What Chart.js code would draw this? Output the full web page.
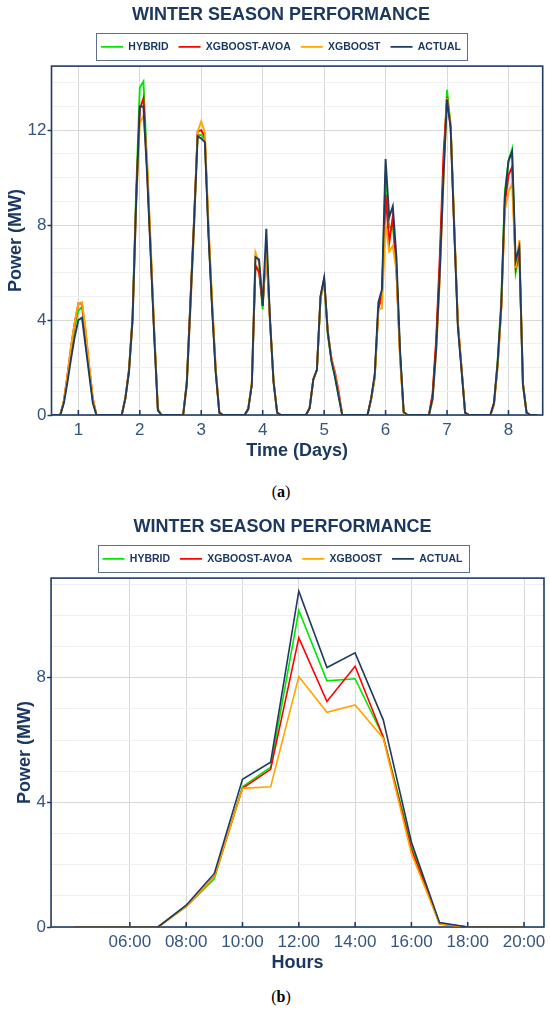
<!DOCTYPE html>
<html>
<head>
<meta charset="utf-8">
<script src="https://cdn.jsdelivr.net/npm/chart.js@4.4.1/dist/chart.umd.min.js"></script>
<style>
    html, body { margin: 0; padding: 0; background: #fff; width: 550px; height: 1014px; overflow: hidden; }
    .box { position: absolute; left: 0; }
    .cap { position: absolute; left: 6px; width: 550px; text-align: center; line-height: 20px;
           font-family: "Liberation Serif", "DejaVu Serif", serif; font-size: 16px; color: #000; }
</style>
</head>
<body>
<div class="box" style="top:0; width:562px; height:465px;"><canvas id="chartA"></canvas></div>
<div class="cap" style="top:482px;">(<b>a</b>)</div>
<div class="box" style="top:512px; width:556px; height:465px;"><canvas id="chartB"></canvas></div>
<div class="cap" style="top:987px;">(<b>b</b>)</div>

<script>
// eixo x: dias e horas amostradas em cada dia
const xDays = [1, 2, 3, 4, 5, 6, 7, 8];
const dayHours = [4, 5, 6, 7, 8, 9, 10, 11, 12, 13, 14, 15, 16, 17, 18, 19, 20];
const hourTicks = [6, 8, 10, 12, 14, 16, 18, 20];
const detailDay = 6;

const seriesNames = ['HYBRID', 'XGBOOST-AVOA', 'XGBOOST', 'ACTUAL'];
const seriesColors = ['#00e800', '#ff0000', '#ffa500', '#1f3b5f'];

// potência (MW) por hora, uma linha por dia
const hybrid = [
    [0,0,0, 0,0.6,1.6,2.7,3.7,4.4,4.55,3.3,1.9,0.6,0, 0,0,0],
    [0,0,0, 0,0.7,1.9,4.2,9.5,13.8,14.05,10.6,7.0,3.4,0.2, 0,0,0],
    [0,0,0, 0,1.4,4.8,8.2,11.8,11.8,11.6,7.7,4.6,1.8,0.1, 0,0,0],
    [0,0,0, 0,0.25,1.3,6.3,6.1,4.45,7.3,4.0,1.4,0.1,0, 0,0,0],
    [0,0,0, 0,0.3,1.5,1.9,4.9,5.6,3.4,2.3,1.6,0.8,0, 0,0,0],
    [0,0,0, 0,0.65,1.55,4.5,5.13,10.16,7.9,7.97,6.11,2.63,0.1, 0,0,0],
    [0,0,0, 0,0.8,3.0,6.3,10.3,13.7,12.2,7.9,3.8,2.0,0.1, 0,0,0],
    [0,0,0, 0,0.5,2.3,4.8,9.4,10.7,11.2,6.0,6.8,1.3,0.1, 0,0,0]
];
const xgboostAvoa = [
    [0,0,0, 0,0.6,1.7,2.9,3.9,4.7,4.7,3.5,2.0,0.7,0, 0,0,0],
    [0,0,0, 0,0.7,1.9,4.1,9.2,12.9,13.35,10.4,6.9,3.4,0.2, 0,0,0],
    [0,0,0, 0,1.4,4.8,8.2,11.95,12.0,11.7,7.8,4.6,1.9,0.1, 0,0,0],
    [0,0,0, 0,0.25,1.3,6.3,6.0,4.6,7.0,4.0,1.4,0.1,0, 0,0,0],
    [0,0,0, 0,0.3,1.5,1.9,5.0,5.75,3.5,2.4,1.8,1.0,0, 0,0,0],
    [0,0,0, 0,0.67,1.62,4.45,5.06,9.28,7.24,8.37,6.1,2.5,0.1, 0,0,0],
    [0,0,0, 0,0.9,3.2,6.7,10.9,13.4,12.1,7.8,3.9,2.0,0.1, 0,0,0],
    [0,0,0, 0,0.5,2.1,4.5,8.9,10.1,10.45,6.2,6.9,1.3,0.1, 0,0,0]
];
const xgboost = [
    [0,0,0, 0,0.6,1.7,2.9,3.9,4.7,4.75,3.6,2.1,0.7,0, 0,0,0],
    [0,0,0, 0,0.7,1.8,3.9,8.8,12.3,12.6,10.8,7.3,3.6,0.3, 0,0,0],
    [0,0,0, 0,1.2,4.4,7.8,11.95,12.37,11.9,8.1,4.9,2.0,0.1, 0,0,0],
    [0,0,0, 0,0.3,1.4,6.85,6.4,4.8,6.9,4.1,1.5,0.1,0, 0,0,0],
    [0,0,0, 0,0.3,1.5,1.9,4.9,5.6,3.6,2.4,1.7,0.9,0, 0,0,0],
    [0,0,0, 0,0.67,1.6,4.45,4.5,8.04,6.89,7.13,6.06,2.36,0.1, 0,0,0],
    [0,0,0, 0,0.6,2.6,5.7,9.8,13.35,12.3,8.1,3.9,2.0,0.1, 0,0,0],
    [0,0,0, 0,0.4,2.0,4.4,8.6,9.4,9.75,6.2,7.37,1.4,0.1, 0,0,0]
];
const actual = [
    [0,0,0, 0,0.5,1.4,2.4,3.3,4.0,4.1,2.9,1.7,0.5,0, 0,0,0],
    [0,0,0, 0,0.7,1.8,4.0,9.0,13.0,13.0,10.2,6.8,3.3,0.2, 0,0,0],
    [0,0,0, 0,1.3,4.6,8.0,11.75,11.65,11.5,7.6,4.5,1.8,0.1, 0,0,0],
    [0,0,0, 0,0.25,1.3,6.65,6.55,4.6,7.85,4.1,1.4,0.1,0, 0,0,0],
    [0,0,0, 0,0.3,1.5,1.9,5.0,5.78,3.5,2.3,1.6,0.8,0, 0,0,0],
    [0,0,0, 0,0.7,1.72,4.74,5.29,10.78,8.33,8.8,6.65,2.73,0.14, 0,0,0],
    [0,0,0, 0,0.7,2.8,6.0,10.0,13.3,12.1,7.8,3.7,1.9,0.1, 0,0,0],
    [0,0,0, 0,0.5,2.2,4.6,9.2,10.7,11.1,6.5,7.08,1.3,0.1, 0,0,0]
];

const navy = '#1f3a63';
const tickText = '#34557e';
const titleText = '#1b3960';
Chart.defaults.font.family = '"Liberation Sans", Arial, sans-serif';

// série contínua: cada hora vira uma fração do dia
function daySeries(rows) {
    const pts = [];
    rows.forEach((row, i) => {
        row.forEach((v, j) => {
            pts.push({ x: xDays[i] + (dayHours[j] - 12) / dayHours.length, y: v });
        });
    });
    return pts;
}

function hourSeries(rows) {
    return rows[detailDay - 1].map((v, j) => ({ x: dayHours[j], y: v }));
}

function buildDatasets(mapper, width) {
    const all = [hybrid, xgboostAvoa, xgboost, actual];
    return all.map((rows, i) => ({
        label: seriesNames[i],
        data: mapper(rows),
        borderColor: seriesColors[i],
        backgroundColor: seriesColors[i],
        borderWidth: width,
        pointRadius: 0,
        tension: 0,
        order: 4 - i
    }));
}

// moldura da legenda e espaço extra abaixo dela
const legendFrame = {
    id: 'legendFrame',
    afterInit(chart) {
        if (!chart.legend) return;
        const fit = chart.legend.fit;
        chart.legend.fit = function() {
            fit.call(this);
            this.height += 4;
        };
    },
    afterDraw(chart) {
        const boxes = chart.legend && chart.legend.legendHitBoxes;
        if (!boxes || !boxes.length) return;
        const first = boxes[0];
        const last = boxes[boxes.length - 1];
        const cy = first.top + first.height / 2;
        const ctx = chart.ctx;
        ctx.save();
        ctx.strokeStyle = '#5d718d';
        ctx.lineWidth = 1;
        ctx.strokeRect(Math.round(first.left - 5) + 0.5, Math.round(cy - 13.5) + 0.5,
            Math.round(last.left + last.width - first.left + 11), 27);
        ctx.restore();
    }
};

// contorno da área do gráfico e marcas internas do eixo x
const plotFrame = {
    id: 'plotFrame',
    beforeDatasetsDraw(chart) {
        const { ctx, chartArea: a } = chart;
        const x = chart.scales.x;
        ctx.save();
        ctx.strokeStyle = navy;
        ctx.lineWidth = 1.6;
        ctx.strokeRect(a.left, a.top, a.right - a.left, a.bottom - a.top);
        ctx.beginPath();
        x.ticks.forEach(t => {
            const px = x.getPixelForValue(t.value);
            ctx.moveTo(px, a.bottom);
            ctx.lineTo(px, a.bottom - 5);
        });
        ctx.stroke();
        ctx.restore();
    }
};

function makeChart(id, cfg) {
    const ctx = document.getElementById(id).getContext('2d');
    return new Chart(ctx, {
        type: 'line',
        data: { datasets: cfg.datasets },
        options: {
            responsive: true,
            maintainAspectRatio: false,
            animation: false,
            layout: { padding: { left: cfg.padLeft, right: 0, top: 0, bottom: 2 } },
            plugins: {
                title: {
                    display: true,
                    text: 'WINTER SEASON PERFORMANCE',
                    color: titleText,
                    font: { size: 18, weight: 'bold' },
                    padding: { top: 4, bottom: 6 }
                },
                legend: {
                    position: 'top',
                    labels: {
                        usePointStyle: true,
                        pointStyle: 'line',
                        pointStyleWidth: 22,
                        boxHeight: 10,
                        padding: 10,
                        color: titleText,
                        font: { size: 10.5, weight: 'bold' },
                        sort: (a, b) => a.datasetIndex - b.datasetIndex
                    }
                },
                tooltip: { enabled: false }
            },
            scales: {
                x: {
                    type: 'linear',
                    min: cfg.xMin,
                    max: cfg.xMax,
                    afterBuildTicks: scale => {
                        scale.ticks = cfg.xTicks.map(v => ({ value: v }));
                    },
                    grid: { color: '#d9d9d9', drawTicks: false },
                    border: { display: false },
                    ticks: {
                        padding: 5,
                        color: tickText,
                        font: { size: 17 },
                        autoSkip: false,
                        maxRotation: 0,
                        callback: cfg.xLabel
                    },
                    title: {
                        display: true,
                        text: cfg.xTitle,
                        color: titleText,
                        font: { size: 18, weight: 'bold' },
                        padding: { top: -5, bottom: 1 }
                    }
                },
                y: {
                    type: 'linear',
                    position: 'left',
                    min: 0,
                    max: cfg.yMax,
                    grid: {
                        color: c => (c.tick && c.tick.value % 4 === 0) ? '#d9d9d9' : '#f0f0f0',
                        tickColor: c => (c.tick && c.tick.value % 4 === 0) ? navy : 'rgba(0,0,0,0)',
                        tickLength: 4,
                        tickWidth: 1.5
                    },
                    border: { display: false },
                    ticks: {
                        stepSize: 1,
                        includeBounds: false,
                        autoSkip: false,
                        padding: 1,
                        color: tickText,
                        font: { size: 17 },
                        callback: v => (v % 4 === 0 ? String(v) : '')
                    },
                    title: {
                        display: true,
                        text: 'Power (MW)',
                        color: titleText,
                        font: { size: 18, weight: 'bold' },
                        padding: { top: 5, bottom: 0 }
                    }
                },
                yPad: {
                    type: 'linear',
                    position: 'right',
                    display: true,
                    grid: { display: false },
                    border: { display: false },
                    ticks: { display: false },
                    afterFit: scale => { scale.width = cfg.padRight; }
                }
            }
        },
        plugins: [legendFrame, plotFrame]
    });
}

makeChart('chartA', {
    datasets: buildDatasets(daySeries, 1.9),
    xMin: 0.563,
    xMax: 8.557,
    xTicks: xDays,
    xLabel: v => String(v),
    xTitle: 'Time (Days)',
    yMax: 14.7,
    padLeft: 0,
    padRight: 19.3
});

makeChart('chartB', {
    datasets: buildDatasets(hourSeries, 1.6),
    xMin: 3.2,
    xMax: 20.71,
    xTicks: hourTicks,
    xLabel: v => String(v).padStart(2, '0') + ':00',
    xTitle: 'Hours',
    yMax: 11.2,
    padLeft: 9,
    padRight: 12
});
</script>
</body>
</html>
